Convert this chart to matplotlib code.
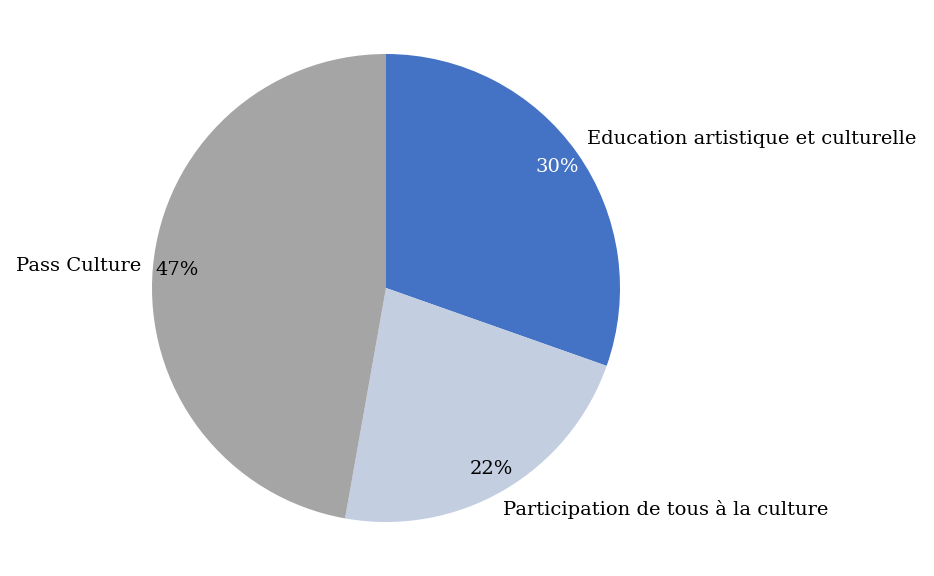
import matplotlib.pyplot as plt

labels = ['Education artistique et culturelle', 'Participation de tous à la culture', 'Pass Culture']
values = [30.4, 22.4, 47.2]
colors = ['#4472C4', '#C3CEE1', '#A5A5A5']
pct_colors = ['white', 'black', 'black']

plt.rcParams['font.family'] = ['DejaVu Serif']

fig = plt.figure(figsize=(9.34, 5.76), dpi=100)
ax = fig.add_axes([0, 0, 1, 1])

wedges, texts, autotexts = ax.pie(values, labels=labels, colors=colors, startangle=90,
                                  counterclock=False, autopct='%1.0f%%', pctdistance=0.895,
                                  labeldistance=1.05, radius=1,
                                  textprops={'fontsize': 14})
for t, c in zip(autotexts, pct_colors):
    t.set_color(c)

# nudge the outer labels like the original
x, y = texts[0].get_position()
texts[0].set_position((x, y + 0.03))
x, y = texts[1].get_position()
texts[1].set_position((x - 0.03, y - 0.04))

# center (386, 288) px, radius 234 px
r = 234
ax.set_xlim(-386 / r, (934 - 386) / r)
ax.set_ylim(-(576 - 288) / r, 288 / r)
ax.set_aspect('equal')
ax.axis('off')

fig.savefig('out.png', dpi=100)
